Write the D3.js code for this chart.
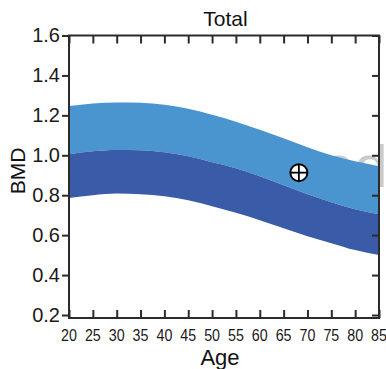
<!DOCTYPE html>
<html>
<head>
<meta charset="utf-8">
<script src="https://cdn.jsdelivr.net/npm/d3@7/dist/d3.min.js"></script>
<style>
  html, body { margin: 0; padding: 0; background: #fff; }
  svg { display: block; }
</style>
</head>
<body>
<svg id="chart" width="386" height="369"></svg>
<script>
const ages   = [20, 25, 30, 35, 40, 45, 50, 55, 60, 65, 70, 75, 80, 85];
const upper  = [1.247, 1.26, 1.265, 1.263, 1.253, 1.233, 1.203, 1.168, 1.128, 1.085, 1.04, 1.0, 0.97, 0.945];
const middle = [1.005, 1.02, 1.027, 1.025, 1.015, 0.995, 0.965, 0.935, 0.895, 0.85, 0.805, 0.765, 0.73, 0.705];
const lower  = [0.786, 0.80, 0.808, 0.805, 0.795, 0.775, 0.745, 0.712, 0.675, 0.635, 0.595, 0.56, 0.525, 0.50];
const patientAge = [68.2];
const patientBMD = [0.913];
const xTicks = [20, 25, 30, 35, 40, 45, 50, 55, 60, 65, 70, 75, 80, 85];
const yTicks = [0.2, 0.4, 0.6, 0.8, 1.0, 1.2, 1.4, 1.6];
const title = "Total", xTitle = "Age", yTitle = "BMD";

const svg = d3.select("#chart");
const mLeft = 69, mRight = 379, mTop = 35.5, mBottom = 318;
const x = d3.scaleLinear().domain([20, 85]).range([mLeft, mRight]);
const y = d3.scaleLinear().domain([0.2, 1.6]).range([315, mTop]);
const axisColor = "#2b2b2b";
const font = "'Liberation Sans', Arial, sans-serif";

// watermark fragment
svg.append("text").attr("x", 321).attr("y", 187)
  .attr("font-family", font).attr("font-size", 60).attr("fill", "#cacaca")
  .text("od");

const rows = ages.map((a, i) => ({ a, u: upper[i], m: middle[i], l: lower[i] }));
const curve = d3.curveMonotoneX;
svg.append("path").datum(rows)
  .attr("fill", "#4a94d0")
  .attr("d", d3.area().curve(curve).x(d => x(d.a)).y0(d => y(d.m)).y1(d => y(d.u)));
svg.append("path").datum(rows)
  .attr("fill", "#3a5ba8")
  .attr("d", d3.area().curve(curve).x(d => x(d.a)).y0(d => y(d.l)).y1(d => y(d.m)));

// axes
const gL = svg.append("g").attr("transform", `translate(${mLeft},0)`)
  .call(d3.axisLeft(y).tickValues(yTicks).tickSize(7).tickPadding(2).tickFormat(d3.format(".1f")));
const gR = svg.append("g").attr("transform", `translate(${mRight},0)`)
  .call(d3.axisLeft(y).tickValues(yTicks).tickSize(7).tickFormat(""));
const gB = svg.append("g").attr("transform", `translate(0,${mBottom})`)
  .call(d3.axisTop(x).tickValues(xTicks).tickSize(8).tickFormat(""));
const gT = svg.append("g").attr("transform", `translate(0,${mTop})`)
  .call(d3.axisBottom(x).tickValues(xTicks).tickSize(8).tickFormat(""));
[gL, gR, gB, gT].forEach(g => {
  g.select(".domain").remove();
  g.selectAll(".tick line").attr("stroke", axisColor).attr("stroke-width", 2);
});
gL.selectAll(".tick text").attr("font-family", font).attr("font-size", 20).attr("fill", "#1a1a1a");

// x tick labels (condensed)
svg.append("g").selectAll("text").data(xTicks).join("text")
  .attr("transform", d => `translate(${x(d)},341) scale(0.84,1)`)
  .attr("text-anchor", "middle")
  .attr("font-family", font)
  .attr("font-size", 17).attr("fill", "#1a1a1a")
  .text(d => d);

// frame
svg.append("rect").attr("x", mLeft).attr("y", mTop).attr("width", mRight - mLeft).attr("height", mBottom - mTop)
  .attr("fill", "none").attr("stroke", axisColor).attr("stroke-width", 2);

// marker
const mk = svg.append("g").selectAll("g").data(patientAge.map((a, i) => ({ a, v: patientBMD[i] }))).join("g")
  .attr("transform", d => `translate(${x(d.a)},${y(d.v)})`);
mk.append("circle").attr("r", 8.5).attr("fill", "#fff").attr("stroke", "#000").attr("stroke-width", 2);
mk.append("line").attr("x1", -8.5).attr("x2", 8.5).attr("stroke", "#000").attr("stroke-width", 1.8);
mk.append("line").attr("y1", -8.5).attr("y2", 8.5).attr("stroke", "#000").attr("stroke-width", 1.8);

// titles
svg.append("text").attr("x", 225.5).attr("y", 26).attr("text-anchor", "middle")
  .attr("font-family", font).attr("font-size", 21).attr("fill", "#111").text(title);
svg.append("text").attr("x", 220).attr("y", 365).attr("text-anchor", "middle")
  .attr("font-family", font).attr("font-size", 22).attr("fill", "#111").text(xTitle);
svg.append("text").attr("transform", "translate(25,171) rotate(-90)").attr("text-anchor", "middle")
  .attr("font-family", font).attr("font-size", 21).attr("fill", "#111").text(yTitle);
</script>
</body>
</html>
